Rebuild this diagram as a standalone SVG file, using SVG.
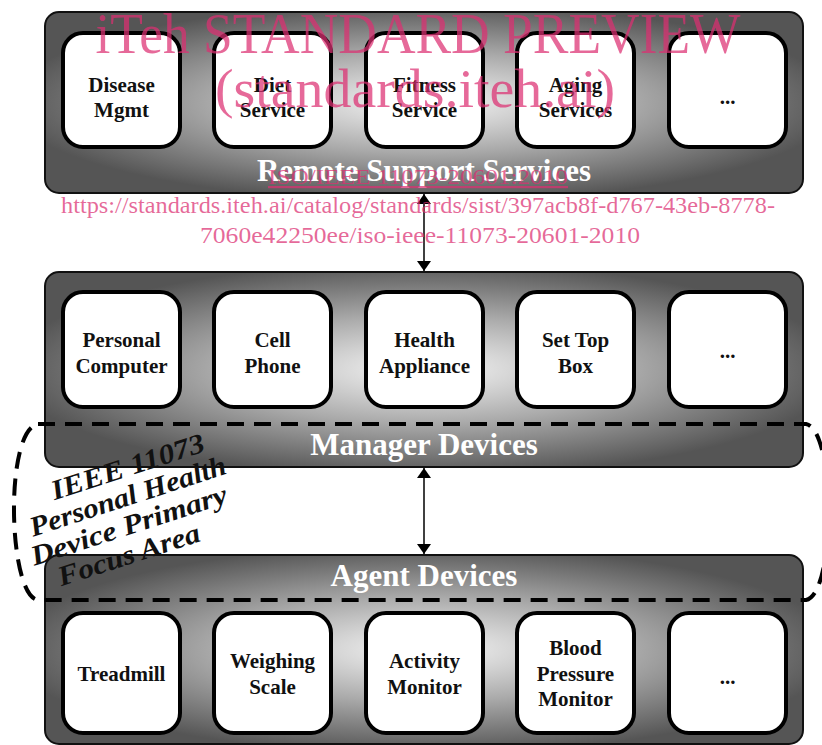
<svg xmlns="http://www.w3.org/2000/svg" width="822" height="745" viewBox="0 0 822 745">
<defs>
<radialGradient id="pg" cx="50%" cy="50%" r="55%">
<stop offset="0" stop-color="#f6f6f6"/>
<stop offset="0.5" stop-color="#aaaaaa"/>
<stop offset="1" stop-color="#555555"/>
</radialGradient>
<marker id="ah" viewBox="0 0 10 14" refX="10" refY="7" markerWidth="10" markerHeight="14" markerUnits="userSpaceOnUse" orient="auto-start-reverse">
<path d="M0,0 L10,7 L0,14 Z" fill="#000"/>
</marker>
</defs>
<style>
.panel{fill:url(#pg);stroke:#111;stroke-width:2}
.box{fill:#fff;stroke:#000;stroke-width:4}
.bt{font-family:"Liberation Serif",serif;font-weight:bold;font-size:21px;fill:#111;text-anchor:middle}
.pt{font-family:"Liberation Serif",serif;font-weight:bold;font-size:31px;fill:#fff;text-anchor:middle}
.conn{stroke:#000;stroke-width:1.5;fill:none;marker-start:url(#ah);marker-end:url(#ah)}
.focus{fill:none;stroke:#000;stroke-width:4;stroke-dasharray:17 10}
.ft{font-family:"Liberation Serif",serif;font-style:italic;font-weight:bold;font-size:28px;fill:#111;text-anchor:middle}
.wm{font-family:"Liberation Serif",serif;fill:#dc2f72;fill-opacity:0.72;text-anchor:middle}
</style>
<rect width="822" height="745" fill="#fff"/>

<g id="remote">
<rect class="panel" x="45" y="12" width="758" height="181" rx="14"/>
<text class="pt" x="424" y="181">Remote Support Services</text>
</g>
<g id="disease"><rect class="box" x="63" y="33" width="117" height="114" rx="20"/><text class="bt" x="121.5" y="92">Disease</text><text class="bt" x="121.5" y="117">Mgmt</text></g>
<g id="diet"><rect class="box" x="214" y="33" width="117" height="114" rx="20"/><text class="bt" x="272.5" y="92">Diet</text><text class="bt" x="272.5" y="117">Service</text></g>
<g id="fitness"><rect class="box" x="366" y="33" width="117" height="114" rx="20"/><text class="bt" x="424.5" y="92">Fitness</text><text class="bt" x="424.5" y="117">Service</text></g>
<g id="aging"><rect class="box" x="517" y="33" width="117" height="114" rx="20"/><text class="bt" x="575.5" y="92">Aging</text><text class="bt" x="575.5" y="117">Services</text></g>
<g id="more1"><rect class="box" x="669" y="33" width="117" height="114" rx="20"/><text class="bt" x="727.5" y="104">...</text></g>

<g id="manager">
<rect class="panel" x="45" y="272" width="758" height="195" rx="14"/>
<text class="pt" x="424" y="455">Manager Devices</text>
</g>
<g id="pc"><rect class="box" x="63" y="292" width="117" height="115" rx="20"/><text class="bt" x="121.5" y="347">Personal</text><text class="bt" x="121.5" y="373">Computer</text></g>
<g id="cell"><rect class="box" x="214" y="292" width="117" height="115" rx="20"/><text class="bt" x="272.5" y="347">Cell</text><text class="bt" x="272.5" y="373">Phone</text></g>
<g id="appliance"><rect class="box" x="366" y="292" width="117" height="115" rx="20"/><text class="bt" x="424.5" y="347">Health</text><text class="bt" x="424.5" y="373">Appliance</text></g>
<g id="settop"><rect class="box" x="517" y="292" width="117" height="115" rx="20"/><text class="bt" x="575.5" y="347">Set Top</text><text class="bt" x="575.5" y="373">Box</text></g>
<g id="more2"><rect class="box" x="669" y="292" width="117" height="115" rx="20"/><text class="bt" x="727.5" y="358">...</text></g>

<g id="agent">
<rect class="panel" x="45" y="555" width="758" height="189" rx="14"/>
<text class="pt" x="424" y="586">Agent Devices</text>
</g>
<g id="treadmill"><rect class="box" x="63" y="613" width="117" height="120" rx="20"/><text class="bt" x="121.5" y="681">Treadmill</text></g>
<g id="scale"><rect class="box" x="214" y="613" width="117" height="120" rx="20"/><text class="bt" x="272.5" y="668">Weighing</text><text class="bt" x="272.5" y="694">Scale</text></g>
<g id="activity"><rect class="box" x="366" y="613" width="117" height="120" rx="20"/><text class="bt" x="424.5" y="668">Activity</text><text class="bt" x="424.5" y="694">Monitor</text></g>
<g id="bp"><rect class="box" x="517" y="613" width="117" height="120" rx="20"/><text class="bt" x="575.5" y="655">Blood</text><text class="bt" x="575.5" y="681">Pressure</text><text class="bt" x="575.5" y="706">Monitor</text></g>
<g id="more3"><rect class="box" x="669" y="613" width="117" height="120" rx="20"/><text class="bt" x="727.5" y="684">...</text></g>

<g id="connectors">
<line class="conn" x1="424" y1="194" x2="424" y2="271"/>
<line class="conn" x1="424" y1="468" x2="424" y2="554"/>
</g>

<g id="focus">
<path class="focus" d="M38,424 L806,424 C836,430 836,594 806,600 L38,600 C8,596 4,430 38,424 Z"/>
<g transform="rotate(-18 128 510)">
<text class="ft" x="141" y="478" textLength="160" lengthAdjust="spacingAndGlyphs">IEEE 11073</text>
<text class="ft" x="132" y="506" textLength="205" lengthAdjust="spacingAndGlyphs">Personal Health</text>
<text class="ft" x="124" y="534" textLength="205" lengthAdjust="spacingAndGlyphs">Device Primary</text>
<text class="ft" x="115" y="562" textLength="148" lengthAdjust="spacingAndGlyphs">Focus Area</text>
</g>
</g>

<g id="watermark">
<text class="wm" x="418" y="53" font-size="56" textLength="645" lengthAdjust="spacingAndGlyphs">iTeh STANDARD PREVIEW</text>
<text class="wm" x="415" y="107" font-size="54" textLength="400" lengthAdjust="spacingAndGlyphs">(standards.iteh.ai)</text>
<text class="wm" x="418" y="184" font-size="22" textLength="300" lengthAdjust="spacingAndGlyphs" text-decoration="underline">ISO/IEEE 11073-20601:2010</text>
<text class="wm" x="418" y="213" font-size="24" textLength="714" lengthAdjust="spacingAndGlyphs">https://standards.iteh.ai/catalog/standards/sist/397acb8f-d767-43eb-8778-</text>
<text class="wm" x="420" y="243" font-size="24" textLength="440" lengthAdjust="spacingAndGlyphs">7060e42250ee/iso-ieee-11073-20601-2010</text>
</g>
</svg>
